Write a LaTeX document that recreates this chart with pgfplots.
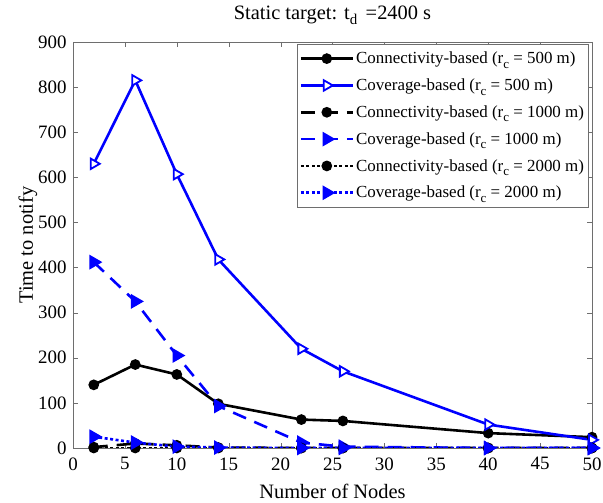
\documentclass[border=0pt]{standalone}
\usepackage{fontspec}
\setmainfont{Liberation Serif}
\usepackage{pgfplots}
\pgfplotsset{compat=1.18}
\definecolor{mblue}{RGB}{0,0,255}
\definecolor{axgray}{RGB}{110,110,110}
% lowered subscripts in the legend and title
\newcommand\lsub[1]{\raisebox{-4.5bp}{\fontsize{13}{13}\selectfont #1}}
\newcommand\tsub[1]{\raisebox{-5.5bp}{\fontsize{15}{15}\selectfont #1}}
\begin{document}
\begin{tikzpicture}[x=1bp,y=1bp]
% page frame around the axis (axis box spans 0..519 by 0..406)
\useasboundingbox (-73,-55) rectangle (530,448);
\begin{axis}[
  at={(0,0)}, anchor=south west,
  scale only axis,
  width=519bp, height=406bp,
  xmin=0, xmax=50, ymin=0, ymax=900,
  xtick={0,5,...,50}, ytick={0,100,...,900},
  /pgf/number format/assume math mode=true,
  tick label style={font=\fontsize{19}{22}\selectfont, text=black},
  xticklabel style={yshift=-6bp},
  yticklabel style={xshift=-3bp},
  label style={font=\fontsize{20.5}{24}\selectfont},
  xlabel={Number of Nodes},
  ylabel={Time to notify},
  xlabel style={at={(axis description cs:0.5,0)}, anchor=base, yshift=-50bp},
  ylabel style={at={(axis description cs:-0.0771,0.5)}, anchor=base},
  title={Static target: t\tsub{d}\, =2400 s},
  title style={font=\fontsize{20.5}{24}\selectfont,
    at={(axis description cs:0.5,1)}, anchor=base, yshift=17bp},
  axis line style={axgray},
  tick style={axgray, major tick length=5bp},
  tick align=inside,
  legend style={at={(axis description cs:1,1)}, anchor=north east,
    xshift=-4bp, yshift=-2bp,
    font=\fontsize{17}{20}\selectfont, draw=axgray, row sep=9.6bp,
    inner xsep=2bp, inner ysep=6bp, outer sep=0pt},
  legend cell align=left,
  legend image code/.code={%
    \draw[mark repeat=2, mark phase=2]
      plot coordinates {(0bp,0bp) (26bp,0bp) (52bp,0bp)};},
  every axis plot/.append style={line width=2.6bp},
]
% Connectivity-based, r_c = 500 m
\addplot[black, solid, mark=*, mark size=4bp, mark options={solid}]
  coordinates {(2,140) (6,185) (10,163) (14,98) (22,63) (26,60) (40,33) (50,24)};
\addlegendentry{Connectivity-based (r\lsub{c} = 500 m)}
% Coverage-based, r_c = 500 m
\addplot[mblue, solid, mark=triangle*, mark size=6bp,
  mark options={solid, rotate=-90, fill=white, line width=1.8bp}]
  coordinates {(2,630) (6,815) (10,607) (14,418) (22,220) (26,170) (40,52) (50,18)};
\addlegendentry{Coverage-based (r\lsub{c} = 500 m)}
% Connectivity-based, r_c = 1000 m
\addplot[black, dash pattern=on 14bp off 9bp, mark=*, mark size=4bp, mark options={solid}]
  coordinates {(2,2) (6,10) (10,6) (14,1) (22,0) (26,0) (40,0) (50,0)};
\addlegendentry{Connectivity-based (r\lsub{c} = 1000 m)}
% Coverage-based, r_c = 1000 m
\addplot[mblue, dash pattern=on 14bp off 9bp, mark=triangle*, mark size=6bp,
  mark options={solid, rotate=-90}]
  coordinates {(2,412) (6,325) (10,205) (14,93) (22,12) (26,3) (40,0) (50,0)};
\addlegendentry{Coverage-based (r\lsub{c} = 1000 m)}
% Connectivity-based, r_c = 2000 m
\addplot[black, dash pattern=on 3bp off 2.5bp, mark=*, mark size=4bp, mark options={solid}]
  coordinates {(2,0) (6,0) (10,0) (14,0) (22,0) (26,0) (40,0) (50,0)};
\addlegendentry{Connectivity-based (r\lsub{c} = 2000 m)}
% Coverage-based, r_c = 2000 m
\addplot[mblue, dash pattern=on 3bp off 2.5bp, mark=triangle*, mark size=6bp,
  mark options={solid, rotate=-90}]
  coordinates {(2,25) (6,12) (10,3) (14,1) (22,0) (26,0) (40,0) (50,0)};
\addlegendentry{Coverage-based (r\lsub{c} = 2000 m)}
\end{axis}
\end{tikzpicture}
\end{document}
